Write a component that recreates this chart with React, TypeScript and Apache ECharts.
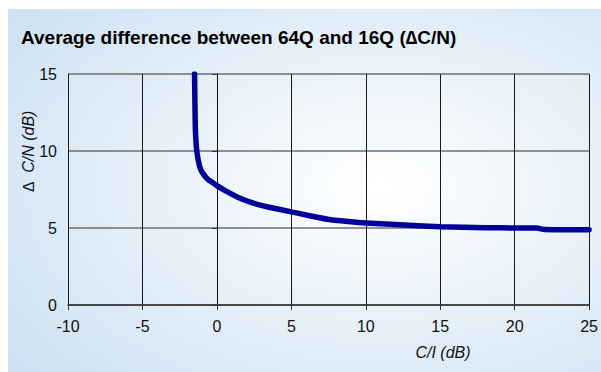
import React, { useEffect, useRef } from "react";
import * as echarts from "echarts";

const titleText = "Average difference between 64Q and 16Q (\u2206C/N)";
const xAxisName = "C/I (dB)";
const yAxisName = "\u2206  C/N (dB)";
const ciValues = [-1.5, -1.45, -1.35, -1.16, -0.98, -0.6, -0.27, 0, 0.62, 1.4, 2.4, 3.5, 5, 6.3, 7.54, 9, 10, 12, 15, 18, 20, 21.5, 22, 25];
const dcnValues = [15, 11.6, 10.0, 9.0, 8.6, 8.15, 7.94, 7.75, 7.39, 7.0, 6.63, 6.35, 6.05, 5.78, 5.55, 5.4, 5.33, 5.22, 5.08, 5.02, 5.0, 5.0, 4.9, 4.88];
const FONT = "Liberation Sans";

export default function App() {
  const ref = useRef<HTMLDivElement>(null);
  useEffect(() => {
    if (!ref.current) return;
    const chart = echarts.init(ref.current, null, { renderer: "svg" });
    const data = ciValues.map((x, i) => [x, dcnValues[i]]);
    chart.setOption({
      animation: false,
      graphic: [
        {
          type: "rect",
          z: -10,
          silent: true,
          shape: { x: 8, y: 9, width: 600, height: 370 },
          style: {
            fill: new echarts.graphic.RadialGradient(0.62, 0.48, 0.8, [
              { offset: 0, color: "#ffffff" },
              { offset: 1, color: "#cbe0f2" },
            ]),
          },
        },
        {
          type: "text",
          x: 21,
          y: 37,
          style: {
            text: titleText,
            fontFamily: FONT,
            fontSize: 19,
            fontWeight: "bold",
            fill: "#000",
            verticalAlign: "middle",
          },
        },
        {
          type: "text",
          x: 443,
          y: 352,
          style: {
            text: xAxisName,
            fontFamily: FONT,
            fontSize: 16,
            fontStyle: "italic",
            fill: "#111",
            align: "center",
            verticalAlign: "middle",
          },
        },
        {
          type: "text",
          x: 28,
          y: 151,
          rotation: Math.PI / 2,
          style: {
            text: yAxisName,
            fontFamily: FONT,
            fontSize: 16,
            fontStyle: "italic",
            fill: "#111",
            align: "center",
            verticalAlign: "middle",
          },
        },
      ],
      grid: { left: 68, right: 10, top: 74, bottom: 67 },
      xAxis: {
        type: "value",
        min: -10,
        max: 25,
        interval: 5,
        axisLine: { show: true, onZero: false, lineStyle: { color: "#333", width: 1.5 } },
        axisTick: { show: true, length: 5, lineStyle: { color: "#333" } },
        axisLabel: { margin: 13, fontSize: 16, color: "#111", fontFamily: FONT },
        splitLine: { show: true, lineStyle: { color: "#1a1a1a", width: 1 } },
      },
      yAxis: {
        type: "value",
        min: 0,
        max: 15,
        interval: 5,
        axisLine: { show: true, lineStyle: { color: "#111", width: 1 } },
        axisTick: { show: true, length: 5, lineStyle: { color: "#333" } },
        axisLabel: { margin: 11, fontSize: 16, color: "#111", fontFamily: FONT },
        splitLine: { show: true, lineStyle: { color: "#6e6e6e", width: 1.5 } },
      },
      series: [
        {
          type: "line",
          data,
          showSymbol: false,
          symbol: "none",
          smooth: 0.12,
          lineStyle: { color: "#000099", width: 5.5, cap: "round", join: "round" },
          clip: true,
        },
      ],
    });
    return () => chart.dispose();
  }, []);
  return (
    <div
      ref={ref}
      style={{ position: "fixed", left: 0, top: 0, width: 601, height: 372, background: "#ffffff" }}
    />
  );
}
